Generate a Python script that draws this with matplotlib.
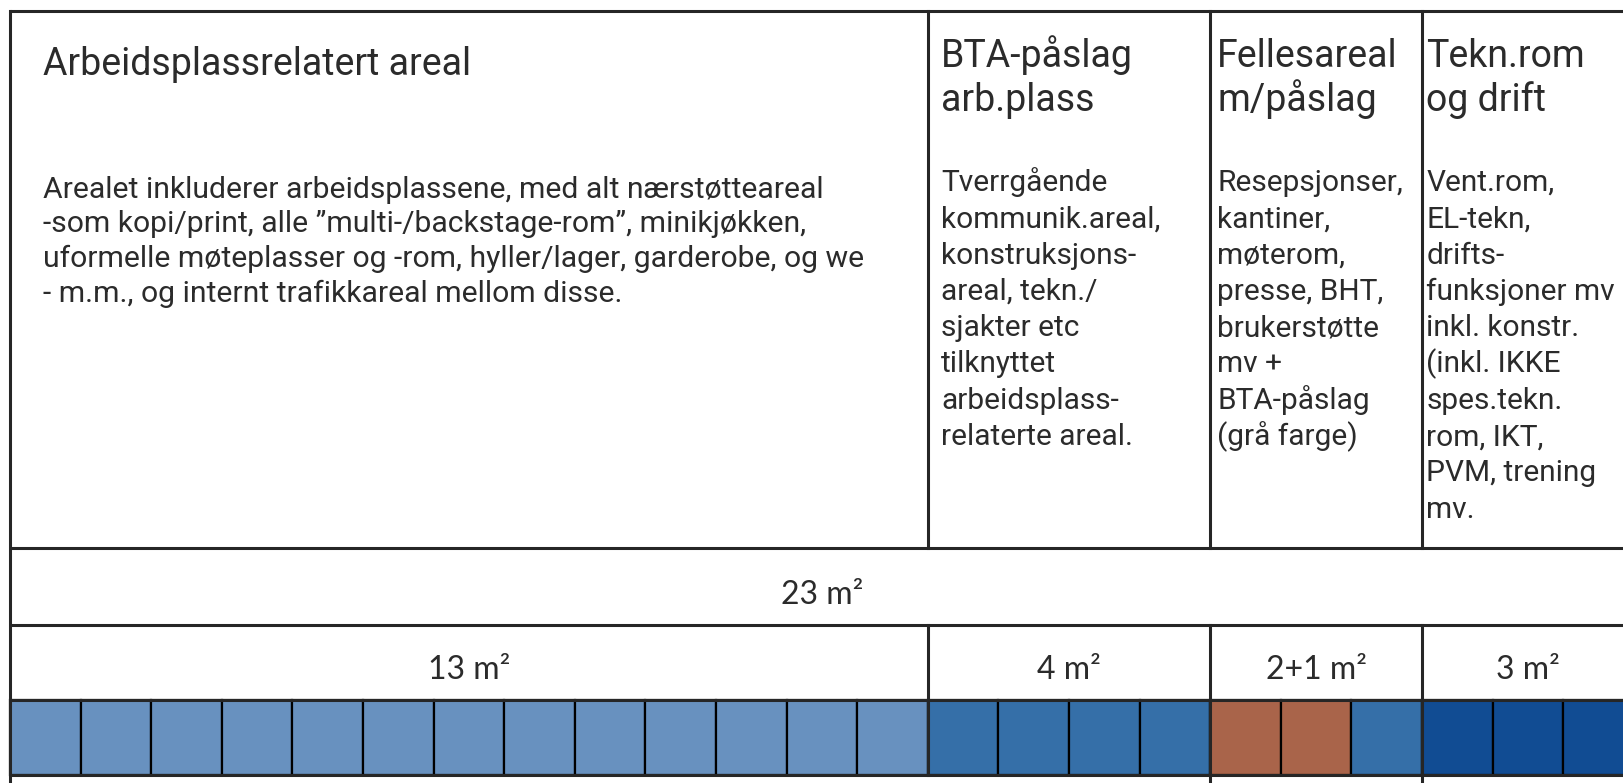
import matplotlib
matplotlib.use("Agg")
import matplotlib.pyplot as plt
import numpy as np

# --- data -------------------------------------------------------------
categories = ["Arbeidsplassrelatert areal", "BTA-påslag\narb.plass",
              "Fellesareal\nm/påslag", "Tekn.rom\nog drift"]
descriptions = [
    "Arealet inkluderer arbeidsplassene, med alt nærstøtteareal\n"
    "-som kopi/print, alle \u201dmulti-/backstage-rom\u201d, minikjøkken,\n"
    "uformelle møteplasser og -rom, hyller/lager, garderobe, og we\n"
    "- m.m., og internt trafikkareal mellom disse.",
    "Tverrgående\nkommunik.areal,\nkonstruksjons-\nareal, tekn./\nsjakter etc\n"
    "tilknyttet\narbeidsplass-\nrelaterte areal.",
    "Resepsjonser,\nkantiner,\nmøterom,\npresse, BHT,\nbrukerstøtte\nmv +\n"
    "BTA-påslag\n(grå farge)",
    "Vent.rom,\nEL-tekn,\ndrifts-\nfunksjoner mv\ninkl. konstr.\n(inkl. IKKE\n"
    "spes.tekn.\nrom, IKT,\nPVM, trening\nmv.",
]
sizes = [13, 4, 3, 3]                       # m2 per category
size_labels = ["13 m²", "4 m²", "2+1 m²", "3 m²"]
total_label = "23 m²"
# one square per m2, colour group for each square
square_groups = ["arb"] * 13 + ["bta"] * 4 + ["felles"] * 2 + ["bta"] + ["tekn"] * 3

colors = {"arb": "#6891bf", "bta": "#356fa8", "felles": "#a9644a", "tekn": "#114c93"}

# --- layout (pixels, y downward) --------------------------------------
W, H = 1624, 783
unit = 70.6          # px per m2 square
x0 = 10              # left table edge in px
y_top, y_head, y_tot, y_sub, y_sq = 11, 548, 625, 700, 775
line_c = "#262626"

fig = plt.figure(figsize=(W / 100, H / 100), dpi=100)
ax = fig.add_axes([0, 0, 1, 1])
ax.set_xlim(-x0 / unit, (W - x0) / unit)
ax.set_ylim(H, 0)
ax.axis("off")

starts = np.concatenate([[0], np.cumsum(sizes)[:-1]])
total = sum(sizes)

# squares
ax.bar(np.arange(total), height=y_sq - y_sub, bottom=y_sub, width=1, align="edge",
       color=[colors[g] for g in square_groups], edgecolor="black", linewidth=1.6)

# table lines
for y in [y_top, y_head, y_tot, y_sub, y_sq]:
    ax.plot([0, total + 1], [y, y], color=line_c, lw=2.2, solid_capstyle="butt")
ax.plot([0, 0], [y_top, H], color=line_c, lw=2.2)
for s in starts[1:]:
    ax.plot([s, s], [y_top, y_head], color=line_c, lw=2.2)
    ax.plot([s, s], [y_tot, y_sq], color=line_c, lw=2.2)
for s in starts[2:]:
    ax.plot([s, s], [y_sq, H], color=line_c, lw=2.2)

# header texts
font = "Roboto"
txt_c = "#2b2b2b"
offsets = [0.47, 0.19, 0.1, 0.06]
for i, (cat, desc) in enumerate(zip(categories, descriptions)):
    x = starts[i] + offsets[i]
    if i == 0:
        ax.text(x, 75, cat, fontsize=27, family=font, color=txt_c, va="baseline")
        for j, line in enumerate(desc.split("\n")):
            ax.text(x, 198 + j * 34.5, line, fontsize=21.7, family=font, color=txt_c,
                    va="baseline")
    else:
        for j, line in enumerate(cat.split("\n")):
            ax.text(x, 67 + j * 44, line, fontsize=27, family=font, color=txt_c,
                    va="baseline")
        for j, line in enumerate(desc.split("\n")):
            ax.text(x, 191 + j * 36.3, line, fontsize=21.5, family=font, color=txt_c,
                    va="baseline")

# size labels
ax.text(total / 2, y_tot - 21, total_label, fontsize=23, family="Lato",
        color=txt_c, ha="center", va="baseline")
for s, n, lab in zip(starts, sizes, size_labels):
    ax.text(s + n / 2, y_sub - 21, lab, fontsize=23, family="Lato",
            color=txt_c, ha="center", va="baseline")

fig.savefig("out.png", dpi=100, facecolor="white")
